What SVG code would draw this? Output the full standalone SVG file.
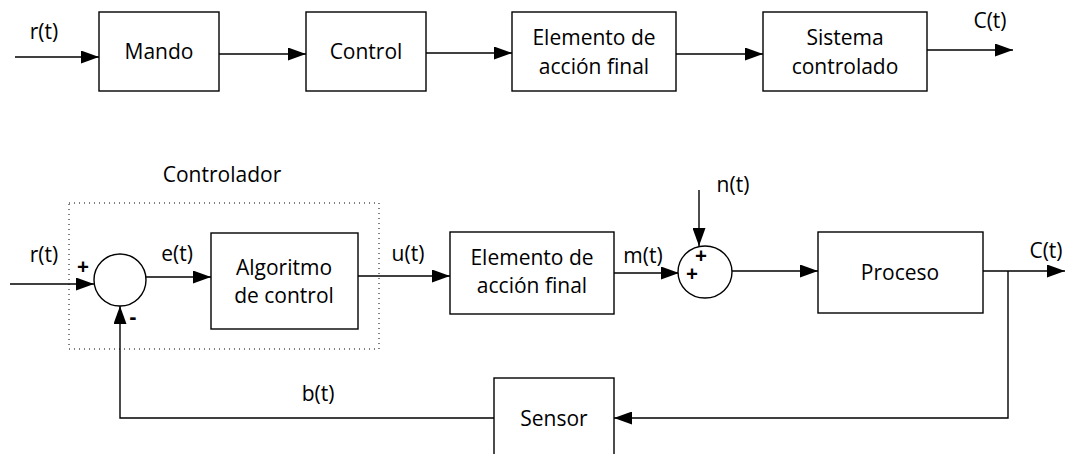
<svg xmlns="http://www.w3.org/2000/svg" width="1069" height="454" viewBox="0 0 1069 454">
<defs>
<marker id="ah" markerWidth="18" markerHeight="13" refX="18" refY="6.5" orient="auto" markerUnits="userSpaceOnUse">
<path d="M0,0 L18,6.5 L0,13 Z" fill="#000"/>
</marker>
<style>
.box{fill:#fff;stroke:#000;stroke-width:1.4}
.ar{fill:none;stroke:#000;stroke-width:1.4;marker-end:url(#ah)}
text{font-family:"Open Sans","Liberation Sans",sans-serif;font-size:21px;fill:#000;text-anchor:middle}
.sg{font-weight:bold;font-size:21px}
</style>
</defs>
<g id="connectors">
<line class="ar" x1="15" y1="57" x2="99" y2="57"/>
<line class="ar" x1="219" y1="54" x2="306" y2="54"/>
<line class="ar" x1="426" y1="53" x2="512" y2="53"/>
<line class="ar" x1="676" y1="54" x2="763" y2="54"/>
<line class="ar" x1="927" y1="50" x2="1013" y2="50"/>
<line class="ar" x1="10" y1="284" x2="94" y2="284"/>
<line class="ar" x1="146" y1="277" x2="211" y2="277"/>
<line class="ar" x1="358" y1="276" x2="450" y2="276"/>
<line class="ar" x1="614" y1="273" x2="679" y2="273"/>
<line class="ar" x1="699" y1="190" x2="699" y2="246"/>
<line class="ar" x1="732" y1="271" x2="818" y2="271"/>
<line class="ar" x1="983" y1="271" x2="1065" y2="271"/>
<polyline class="ar" points="1008,271 1008,418 614,418"/>
<polyline class="ar" points="494,418 120,418 120,306"/>
</g>
<g id="top-mando"><rect class="box" x="99" y="12" width="120" height="79"/><text x="159" y="59">Mando</text></g>
<g id="top-control"><rect class="box" x="306" y="12" width="120" height="79"/><text x="366" y="59">Control</text></g>
<g id="top-elemento"><rect class="box" x="512" y="12" width="164" height="79"/><text x="594" y="45">Elemento de</text><text x="594" y="74">acción final</text></g>
<g id="top-sistema"><rect class="box" x="763" y="12" width="164" height="79"/><text x="845" y="45">Sistema</text><text x="845" y="74">controlado</text></g>
<g id="top-labels"><text x="44" y="39">r(t)</text><text x="990" y="28">C(t)</text></g>
<g id="controlador"><rect x="69" y="203" width="310" height="146" fill="none" stroke="#000" stroke-width="1" stroke-dasharray="1,4"/><text x="222" y="182">Controlador</text></g>
<g id="sum1"><circle class="box" cx="120" cy="280" r="26"/><text class="sg" x="83" y="274">+</text><text class="sg" x="133" y="324">-</text></g>
<g id="algoritmo"><rect class="box" x="211" y="233" width="147" height="96"/><text x="284" y="275">Algoritmo</text><text x="284" y="303">de control</text></g>
<g id="elemento"><rect class="box" x="450" y="232" width="164" height="82"/><text x="532" y="265">Elemento de</text><text x="532" y="293">acción final</text></g>
<g id="sum2"><ellipse class="box" cx="705" cy="272" rx="27" ry="26"/><text class="sg" x="701" y="263">+</text><text class="sg" x="692" y="281">+</text></g>
<g id="proceso"><rect class="box" x="818" y="232" width="165" height="81"/><text x="900" y="280">Proceso</text></g>
<g id="sensor"><rect class="box" x="494" y="378" width="120" height="84"/><text x="554" y="426">Sensor</text></g>
<g id="labels"><text x="44" y="262">r(t)</text><text x="177" y="261">e(t)</text><text x="408" y="261">u(t)</text><text x="643" y="263">m(t)</text><text x="733" y="192">n(t)</text><text x="1046" y="258">C(t)</text><text x="318" y="401">b(t)</text></g>
</svg>
